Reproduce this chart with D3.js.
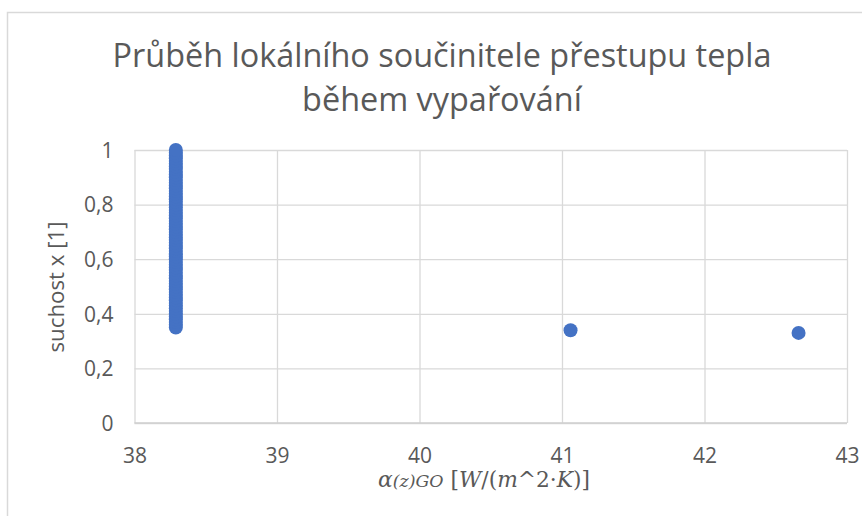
<!DOCTYPE html>
<html>
<head>
<meta charset="utf-8">
<script src="https://cdn.jsdelivr.net/npm/d3@7"></script>
<style>
  html, body { margin: 0; padding: 0; background: #fff; }
  svg { display: block; }
  .tick text { fill: #595959; font-family: "Open Sans", sans-serif; font-size: 21px; }
</style>
</head>
<body>
<div id="chart"></div>
<script>
// title lines and axis labels
const titleLines = ['Průběh lokálního součinitele přestupu tepla', 'během vypařování'];
const yLabel = 'suchost x [1]';

// ticks
const xTicks = [38, 39, 40, 41, 42, 43];
const yTicks = [0, 0.2, 0.4, 0.6, 0.8, 1];

// dense column of measurements at one α value
const columnX = 38.29;
const columnY = [
  0.35, 0.36, 0.37, 0.38, 0.39, 0.40, 0.41, 0.42, 0.43, 0.44,
  0.45, 0.46, 0.47, 0.48, 0.49, 0.50, 0.51, 0.52, 0.53, 0.54,
  0.55, 0.56, 0.57, 0.58, 0.59, 0.60, 0.61, 0.62, 0.63, 0.64,
  0.65, 0.66, 0.67, 0.68, 0.69, 0.70, 0.71, 0.72, 0.73, 0.74,
  0.75, 0.76, 0.77, 0.78, 0.79, 0.80, 0.81, 0.82, 0.83, 0.84,
  0.85, 0.86, 0.87, 0.88, 0.89, 0.90, 0.91, 0.92, 0.93, 0.94,
  0.95, 0.96, 0.97, 0.98, 0.99, 1.00
];

// the two outliers
const otherX = [41.06, 42.66];
const otherY = [0.34, 0.33];

const W = 862, H = 516;
const plot = { left: 134.5, right: 847, top: 150, bottom: 423 };
const grey = '#d9d9d9', textCol = '#595959', blue = '#4472C4';

const svg = d3.select('#chart').append('svg')
  .attr('width', W).attr('height', H);

// chart area border (only top and left show in the crop)
svg.append('path')
  .attr('d', `M7.5,${H} V12.5 H${W}`)
  .attr('fill', 'none').attr('stroke', grey).attr('stroke-width', 1.5);

const x = d3.scaleLinear().domain([38, 43]).range([plot.left, plot.right]);
const y = d3.scaleLinear().domain([0, 1]).range([plot.bottom, plot.top]);

const fmt = d => d3.format('.1f')(d).replace('.', ',').replace(/^0,0$/, '0').replace(/,0$/, '');

// gridlines
svg.append('g')
  .attr('transform', `translate(0,${plot.bottom})`)
  .call(d3.axisBottom(x).tickValues(xTicks).tickSize(-(plot.bottom - plot.top)).tickFormat(d3.format('d')).tickPadding(25))
  .call(g => g.select('.domain').remove())
  .call(g => g.selectAll('line').attr('stroke', grey).attr('stroke-width', 1.3));

svg.append('g')
  .attr('transform', `translate(${plot.left},0)`)
  .call(d3.axisLeft(y).tickValues(yTicks).tickSize(-(plot.right - plot.left)).tickFormat(fmt).tickPadding(21))
  .call(g => g.select('.domain').remove())
  .call(g => g.selectAll('line').attr('stroke', grey).attr('stroke-width', 1.3))
  .call(g => g.selectAll('text').attr('dy', '0.35em'));

// bottom axis line slightly darker
svg.append('line')
  .attr('x1', plot.left).attr('x2', plot.right)
  .attr('y1', plot.bottom).attr('y2', plot.bottom)
  .attr('stroke', '#cfcfcf').attr('stroke-width', 1.5);

// points
const pts = columnY.map(v => [columnX, v]).concat(otherX.map((v, i) => [v, otherY[i]]));
svg.append('g').selectAll('circle')
  .data(pts)
  .join('circle')
  .attr('cx', d => x(d[0]))
  .attr('cy', d => y(d[1]))
  .attr('r', 7)
  .attr('fill', blue);

// fit text to a target width
function fit(sel, width) {
  const w = sel.node().getComputedTextLength();
  const fs = parseFloat(sel.attr('font-size'));
  sel.attr('font-size', fs * width / w);
}

// title
const t1 = svg.append('text')
  .attr('x', 442).attr('y', 67).attr('text-anchor', 'middle')
  .attr('font-family', '"Open Sans", sans-serif').attr('font-size', 28)
  .attr('fill', textCol).text(titleLines[0]);
fit(t1, 659);
svg.append('text')
  .attr('x', 442).attr('y', 111).attr('text-anchor', 'middle')
  .attr('font-family', '"Open Sans", sans-serif').attr('font-size', t1.attr('font-size'))
  .attr('fill', textCol).text(titleLines[1]);

// y axis label
const yl = svg.append('text')
  .attr('transform', 'translate(64,287) rotate(-90)')
  .attr('text-anchor', 'middle')
  .attr('font-family', '"Open Sans", sans-serif').attr('font-size', 20)
  .attr('fill', textCol).text(yLabel);
fit(yl, 131);

// x axis label, math style
const xl = svg.append('text')
  .attr('x', 484).attr('y', 487).attr('text-anchor', 'middle')
  .attr('font-family', '"DejaVu Serif", serif').attr('font-size', 20)
  .attr('fill', textCol);
xl.append('tspan').attr('font-style', 'italic').text('α');
xl.append('tspan').attr('font-style', 'italic').attr('font-size', '0.8em').text('(z)GO');
xl.append('tspan').text(' [');
xl.append('tspan').attr('font-style', 'italic').text('W');
xl.append('tspan').text('/(');
xl.append('tspan').attr('font-style', 'italic').text('m');
xl.append('tspan').text('^2·');
xl.append('tspan').attr('font-style', 'italic').text('K');
xl.append('tspan').text(')]');
fit(xl, 212);
</script>
</body>
</html>
